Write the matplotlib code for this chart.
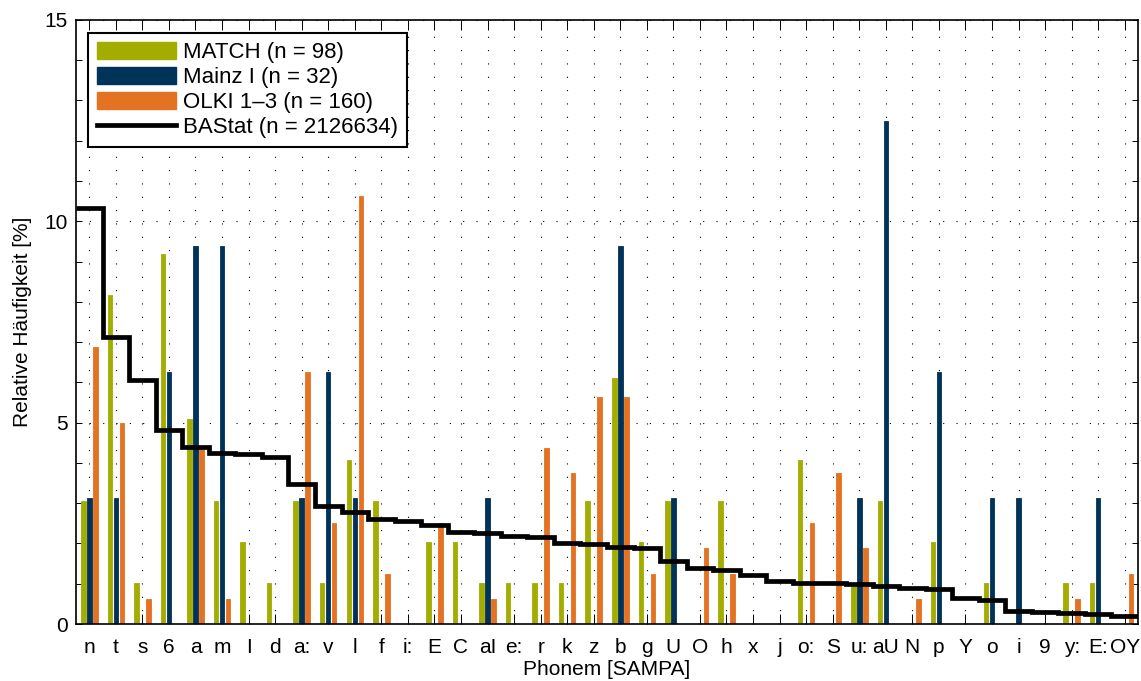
import numpy as np
import matplotlib
matplotlib.use('Agg')
import matplotlib.pyplot as plt
from matplotlib.patches import Patch
from matplotlib.lines import Line2D
from matplotlib.ticker import MultipleLocator

plt.rcParams['font.family'] = ['Liberation Sans', 'DejaVu Sans']

# Phoneme (SAMPA) categories, sorted by BAStat frequency
phonemes = ['n', 't', 's', '6', 'a', 'm', 'I', 'd', 'a:', 'v',
            'l', 'f', 'i:', 'E', 'C', 'aI', 'e:', 'r', 'k', 'z',
            'b', 'g', 'U', 'O', 'h', 'x', 'j', 'o:', 'S', 'u:',
            'aU', 'N', 'p', 'Y', 'o', 'i', '9', 'y:', 'E:', 'OY']

# relative frequencies in %
match = [3.06, 8.16, 1.02, 9.18, 5.10, 3.06, 2.04, 1.02, 3.06, 1.02,
         4.08, 3.06, 0.00, 2.04, 2.04, 1.02, 1.02, 1.02, 1.02, 3.06,
         6.12, 2.04, 3.06, 0.00, 3.06, 0.00, 0.00, 4.08, 0.00, 1.02,
         3.06, 0.00, 2.04, 0.00, 1.02, 0.00, 0.00, 1.02, 1.02, 0.00]
mainz = [3.125, 3.125, 0.0, 6.25, 9.375, 9.375, 0.0, 0.0, 3.125, 6.25,
         3.125, 0.0, 0.0, 0.0, 0.0, 3.125, 0.0, 0.0, 0.0, 0.0,
         9.375, 0.0, 3.125, 0.0, 0.0, 0.0, 0.0, 0.0, 0.0, 3.125,
         12.5, 0.0, 6.25, 0.0, 3.125, 3.125, 0.0, 0.0, 3.125, 0.0]
olki = [6.875, 5.0, 0.625, 0.0, 4.375, 0.625, 0.0, 0.0, 6.25, 2.5,
        10.625, 1.25, 0.0, 2.5, 0.0, 0.625, 0.0, 4.375, 3.75, 5.625,
        5.625, 1.25, 0.0, 1.875, 1.25, 0.0, 0.0, 2.5, 3.75, 1.875,
        0.0, 0.625, 0.0, 0.0, 0.0, 0.0, 0.0, 0.625, 0.0, 1.25]
bastat = [10.33, 7.13, 6.05, 4.81, 4.39, 4.24, 4.22, 4.14, 3.47, 2.92,
          2.78, 2.61, 2.55, 2.46, 2.28, 2.26, 2.18, 2.16, 2.01, 1.99,
          1.91, 1.88, 1.56, 1.40, 1.33, 1.22, 1.08, 1.03, 1.01, 1.00,
          0.95, 0.89, 0.87, 0.64, 0.59, 0.33, 0.31, 0.28, 0.26, 0.21]

labels = ['MATCH (n = 98)', 'Mainz I (n = 32)', 'OLKI 1\u20133 (n = 160)',
          'BAStat (n = 2126634)']
colors = ['#a2ad00', '#003359', '#e37222']


def main():
    fig = plt.figure(figsize=(11.41, 6.81), dpi=100)
    ax = fig.add_axes([0.0666, 0.0837, 0.9308, 0.887])

    x = np.arange(1, len(phonemes) + 1)
    off = 0.226
    w = 0.17
    for k, (vals, c) in enumerate(zip([match, mainz, olki], colors)):
        ax.bar(x + (k - 1) * off, vals, width=w, color=c, edgecolor=c,
               linewidth=0.6, zorder=2)

    edges = np.arange(0.5, len(phonemes) + 1)
    ax.stairs(bastat, edges, color='black', linewidth=3.4, zorder=3,
              baseline=None)

    ax.set_xlim(0.5, len(phonemes) + 0.5)
    ax.set_ylim(0, 15)
    ax.set_xticks(x)
    ax.set_xticklabels(phonemes)
    ax.set_yticks([0, 5, 10, 15])
    ax.yaxis.set_minor_locator(MultipleLocator(1))
    ax.tick_params(axis='x', which='major', direction='in', length=7,
                   top=True, labelsize=15, pad=10, width=0.7)
    ax.tick_params(axis='y', which='both', direction='in', length=4,
                   right=True, labelsize=15, pad=6, width=0.7)

    ax.set_axisbelow(True)
    dots = (0, (1, 11))
    ax.grid(True, axis='x', color='black', linestyle=dots, linewidth=0.8)
    ax.grid(True, axis='y', which='major', color='black', linestyle=dots,
            linewidth=0.8)
    for s in ax.spines.values():
        s.set_linewidth(1.2)

    ax.set_xlabel('Phonem [SAMPA]', fontsize=15, labelpad=2)
    ax.set_ylabel('Relative Häufigkeit [%]', fontsize=15, labelpad=9)

    handles = [Patch(color=c) for c in colors]
    handles.append(Line2D([], [], color='black', linewidth=3.4))
    leg = ax.legend(handles, labels, loc='upper left',
                    bbox_to_anchor=(0.011, 0.979), fontsize=16,
                    fancybox=False, edgecolor='black', framealpha=1,
                    handlelength=3.56, handleheight=0.8, labelspacing=0.18,
                    handletextpad=0.35, borderpad=0.4, borderaxespad=0)
    leg.get_frame().set_linewidth(1.5)

    fig.savefig('out.png', dpi=100)


if __name__ == '__main__':
    main()
